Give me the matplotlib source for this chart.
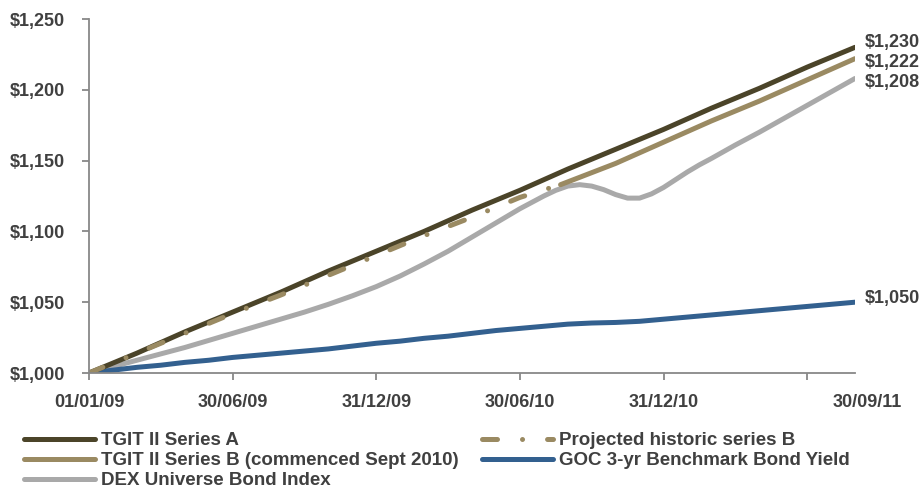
import matplotlib
matplotlib.use('Agg')
import matplotlib.pyplot as plt
import matplotlib.transforms as mtransforms

plt.rcParams['font.family'] = ['Liberation Sans', 'DejaVu Sans']
plt.rcParams['font.weight'] = 'bold'

# months since 01/01/09
months_ab = [0, 2, 4, 6, 8, 10, 12, 14, 16, 18, 20, 22, 24, 26, 28, 30, 32]
series_a = [1000, 1014, 1029, 1043, 1057, 1072, 1086, 1100, 1115, 1129, 1144,
            1158, 1172, 1187, 1201, 1216, 1230]

months_proj = [0, 2, 4, 6, 8, 10, 12, 14, 16, 18, 19.7]
projected_b = [1000, 1014, 1028, 1042, 1055, 1069, 1083, 1097, 1110, 1124, 1133]

months_b = [19.7, 22, 24, 26, 28, 30, 32]
series_b = [1133, 1148, 1163, 1178, 1192, 1207, 1222]

months_dex = [0, 1, 2, 3, 4, 5, 6, 7, 8, 9, 10, 11, 12, 13, 14, 15, 16, 17,
              18, 19, 19.5, 20, 20.5, 21, 21.5, 22, 22.5, 23, 23.5, 24, 24.5,
              25, 25.5, 26, 27, 28, 29, 30, 31, 32]
dex = [1000, 1004.5, 1009, 1013.5, 1018, 1023, 1028, 1033, 1038, 1043, 1048.5,
       1054.5, 1061, 1068.5, 1077, 1086, 1096, 1106, 1116, 1125, 1129, 1132,
       1133, 1132, 1129.5, 1126, 1123.5, 1123.5, 1126.5, 1131, 1136.5, 1142,
       1147, 1151.5, 1161, 1170, 1179.5, 1189, 1198.5, 1208]

months_goc = [0, 1, 2, 3, 4, 5, 6, 7, 8, 9, 10, 11, 12, 13, 14, 15, 16, 17,
              18, 19, 20, 21, 22, 23, 24, 25, 26, 27, 28, 29, 30, 31, 32]
goc = [1000, 1002, 1004, 1005.5, 1007.5, 1009, 1011, 1012.5, 1014, 1015.5,
       1017, 1019, 1021, 1022.5, 1024.5, 1026, 1028, 1030, 1031.5, 1033,
       1034.5, 1035.3, 1035.7, 1036.5, 1038, 1039.5, 1041, 1042.5, 1044,
       1045.5, 1047, 1048.5, 1050]

tick_months = [0, 6, 12, 18, 24, 30, 32]
tick_labels = ['01/01/09', '30/06/09', '31/12/09', '30/06/10', '31/12/10', '',
               '30/09/11']

c_a = '#4b4429'
c_b = '#9a8a62'
c_dex = '#a9a9a9'
c_goc = '#33608f'
txt = '#404040'
lw = 3.6

fig = plt.figure(figsize=(9.22, 4.9), dpi=100)
ax = fig.add_axes([89 / 922, 1 - 373 / 490, (855 - 89) / 922, (373 - 19) / 490])

ax.plot(months_dex, dex, color=c_dex, lw=lw, solid_capstyle='round',
        solid_joinstyle='round', label='DEX Universe Bond Index')
ax.plot(months_goc, goc, color=c_goc, lw=lw, solid_capstyle='round',
        solid_joinstyle='round', label='GOC 3-yr Benchmark Bond Yield')
ax.plot(months_b, series_b, color=c_b, lw=lw, solid_capstyle='round',
        label='TGIT II Series B (commenced Sept 2010)')
ax.plot(months_ab, series_a, color=c_a, lw=lw, solid_capstyle='round',
        label='TGIT II Series A')
ax.plot(months_proj, projected_b, color=c_b, lw=lw, dashes=(3, 5, 0.01, 5),
        dash_capstyle='round', label='Projected historic series B')

# end labels
ends = [(series_a[-1], 3.5), (series_b[-1], -2.5), (dex[-1], -3), (goc[-1], 3)]
for v, dy in ends:
    ax.annotate('${:,.0f}'.format(v), xy=(32, v), xytext=(7, dy),
                textcoords='offset points', va='center', ha='left',
                fontsize=13, color=txt, fontweight='bold', annotation_clip=False)

ax.set_xlim(0, 32)
ax.set_ylim(1000, 1250)
ax.set_yticks([1000, 1050, 1100, 1150, 1200, 1250])
ax.set_yticklabels(['${:,}'.format(v) for v in range(1000, 1251, 50)])
ax.set_xticks(tick_months)
ax.set_xticklabels(tick_labels)

for s in ['top', 'right']:
    ax.spines[s].set_visible(False)
for s in ['left', 'bottom']:
    ax.spines[s].set_color('#888888')
    ax.spines[s].set_linewidth(1.3)
ax.tick_params(axis='y', length=5, width=1.3, color='#888888', pad=12,
               labelsize=13, labelcolor=txt)
ax.tick_params(axis='x', length=5, width=1.3, color='#888888', pad=10,
               labelsize=13, labelcolor=txt)

last = ax.xaxis.get_major_ticks()[-1]
last.tick1line.set_visible(False)
last.label1.set_transform(last.label1.get_transform() +
                          mtransforms.ScaledTranslation(12 / 100, 0,
                                                        fig.dpi_scale_trans))

handles, labels = ax.get_legend_handles_labels()
order = ['TGIT II Series A', 'TGIT II Series B (commenced Sept 2010)',
         'DEX Universe Bond Index', 'Projected historic series B',
         'GOC 3-yr Benchmark Bond Yield']
hmap = dict(zip(labels, handles))
leg = fig.legend([hmap[k] for k in order], order, loc='upper left',
                 bbox_to_anchor=(24 / 922, 1 - 432 / 490), ncol=2, frameon=False,
                 fontsize=13.5, handlelength=3.8, handletextpad=0.3,
                 columnspacing=1.26, labelspacing=0.16, borderpad=0,
                 borderaxespad=0)
for t in leg.get_texts():
    t.set_color(txt)

fig.savefig('out.png', dpi=100)
